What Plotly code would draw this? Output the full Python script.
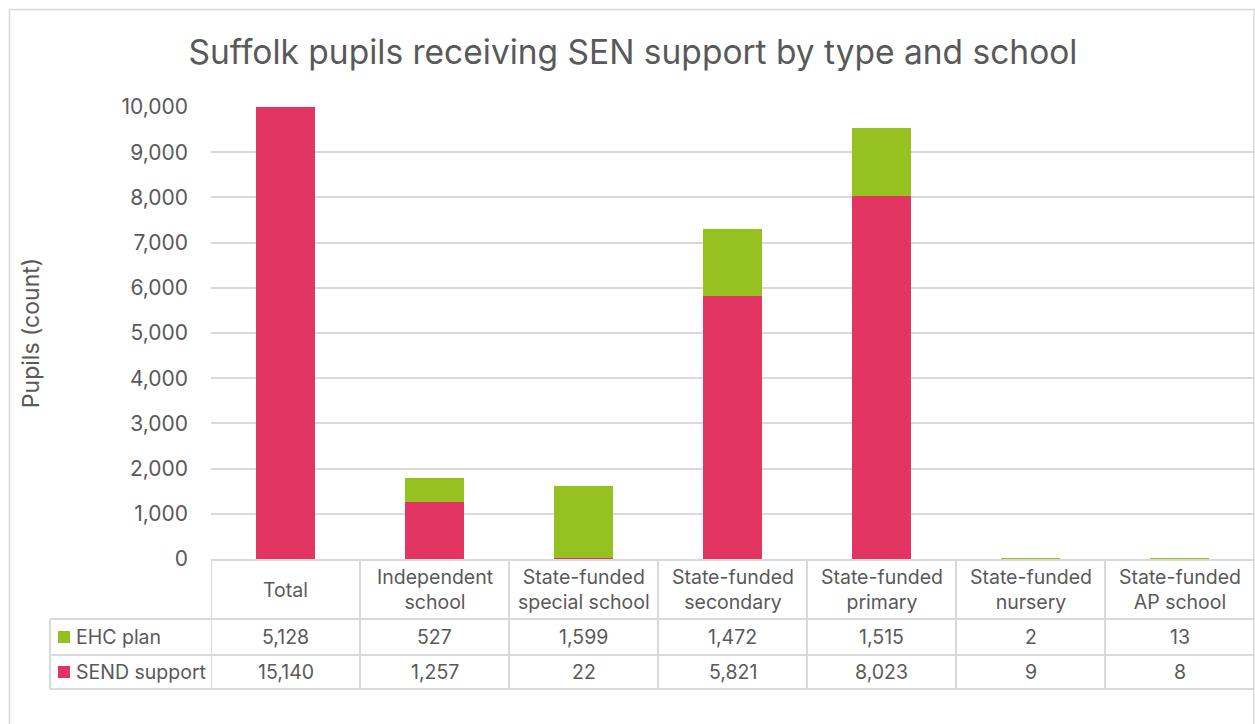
import plotly.graph_objects as go

# Pupils receiving SEN support in Suffolk, by school type
categories = [
    "Total",
    "Independent<br>school",
    "State-funded<br>special school",
    "State-funded<br>secondary",
    "State-funded<br>primary",
    "State-funded<br>nursery",
    "State-funded<br>AP school",
]
send_support = [15140, 1257, 22, 5821, 8023, 9, 8]
ehc_plan = [5128, 527, 1599, 1472, 1515, 2, 13]
y_ticks = list(range(0, 10001, 1000))

PINK = "#E23562"
GREEN = "#95C121"
TEXT = "#595959"
GRID = "#D9D9D9"
FONT = "Inter, Noto Sans, sans-serif"

W, H = 1255, 724
L, R, T, B = 211, 1, 107, 165
plot_w = W - L - R
plot_h = H - T - B


def px_x(x):
    return (x - L) / plot_w


def px_y(y):
    return (H - B - y) / plot_h


n = len(categories)
idx = list(range(n))

fig = go.Figure()
fig.add_bar(x=idx, y=send_support, name="SEND support", marker=dict(color=PINK, line=dict(width=0)))
fig.add_bar(x=idx, y=ehc_plan, name="EHC plan", marker=dict(color=GREEN, line=dict(width=0)))

shapes = []
annotations = []

# data table rows (pixel rows under the plot)
header_top, header_bot, row1_bot, row2_bot = 560, 619, 655, 689
legend_left = 50

line = dict(color=GRID, width=2)
for k in range(n + 1):
    shapes.append(dict(type="line", xref="x", yref="paper", x0=k - 0.5, x1=k - 0.5,
                       y0=px_y(header_top), y1=px_y(row2_bot), line=line))
shapes.append(dict(type="line", xref="paper", yref="paper", x0=px_x(legend_left), x1=px_x(legend_left),
                   y0=px_y(header_bot), y1=px_y(row2_bot), line=line))
shapes.append(dict(type="line", xref="x", yref="paper", x0=-0.5, x1=n - 0.5,
                   y0=px_y(header_top), y1=px_y(header_top), line=line))
for yy in (header_bot, row1_bot, row2_bot):
    shapes.append(dict(type="line", xref="paper", yref="paper",
                       x0=px_x(legend_left), x1=1, y0=px_y(yy), y1=px_y(yy), line=line))

# chart border
shapes.append(dict(type="rect", xref="paper", yref="paper", x0=px_x(9.5), x1=px_x(1254),
                   y0=px_y(740), y1=px_y(9.5), line=dict(color=GRID, width=1.5), layer="below"))

font = dict(family=FONT, size=19.5, color=TEXT)
cell = dict(showarrow=False, font=font, xanchor="center", yanchor="middle", align="center")
for k, cat in enumerate(categories):
    annotations.append(dict(x=k, y=px_y((header_top + header_bot) / 2), xref="x", yref="paper",
                            text=cat, **cell))
    annotations.append(dict(x=k, y=px_y((header_bot + row1_bot) / 2), xref="x", yref="paper",
                            text=f"{ehc_plan[k]:,}", **cell))
    annotations.append(dict(x=k, y=px_y((row1_bot + row2_bot) / 2), xref="x", yref="paper",
                            text=f"{send_support[k]:,}", **cell))

# legend keys inside the table
for name, color, top, bot in (("EHC plan", GREEN, header_bot, row1_bot),
                              ("SEND support", PINK, row1_bot, row2_bot)):
    cy = (top + bot) / 2
    shapes.append(dict(type="rect", xref="paper", yref="paper", x0=px_x(58), x1=px_x(70),
                       y0=px_y(cy + 6), y1=px_y(cy - 6), fillcolor=color, line=dict(width=0)))
    annotations.append(dict(x=px_x(74), y=px_y(cy), xref="paper", yref="paper", text=name,
                            showarrow=False, font=font, xanchor="left", yanchor="middle"))

fig.update_layout(
    width=W, height=H,
    margin=dict(l=L, r=R, t=T, b=B),
    barmode="stack",
    bargap=0.6,
    showlegend=False,
    paper_bgcolor="white",
    plot_bgcolor="white",
    font=dict(family=FONT, color=TEXT),
    title=dict(text="Suffolk pupils receiving SEN support by type and school",
               xref="container", x=633 / W, xanchor="center",
               yref="container", y=1 - 52 / H, yanchor="middle",
               font=dict(family=FONT, size=33.5, color=TEXT)),
    shapes=shapes,
    annotations=annotations,
)
fig.update_xaxes(range=[-0.5, n - 0.5], showticklabels=False, showgrid=False,
                 zeroline=False, showline=False, fixedrange=True)
fig.update_yaxes(range=[0, 10000], tickvals=y_ticks, tickformat=",", showgrid=True,
                 gridcolor=GRID, gridwidth=2, zeroline=False, showline=False,
                 ticks="", ticklabelstandoff=22, tickfont=dict(family=FONT, size=21, color=TEXT),
                 title=dict(text="Pupils (count)", font=dict(family=FONT, size=23, color=TEXT),
                            standoff=75))

fig.write_html("out.html")
